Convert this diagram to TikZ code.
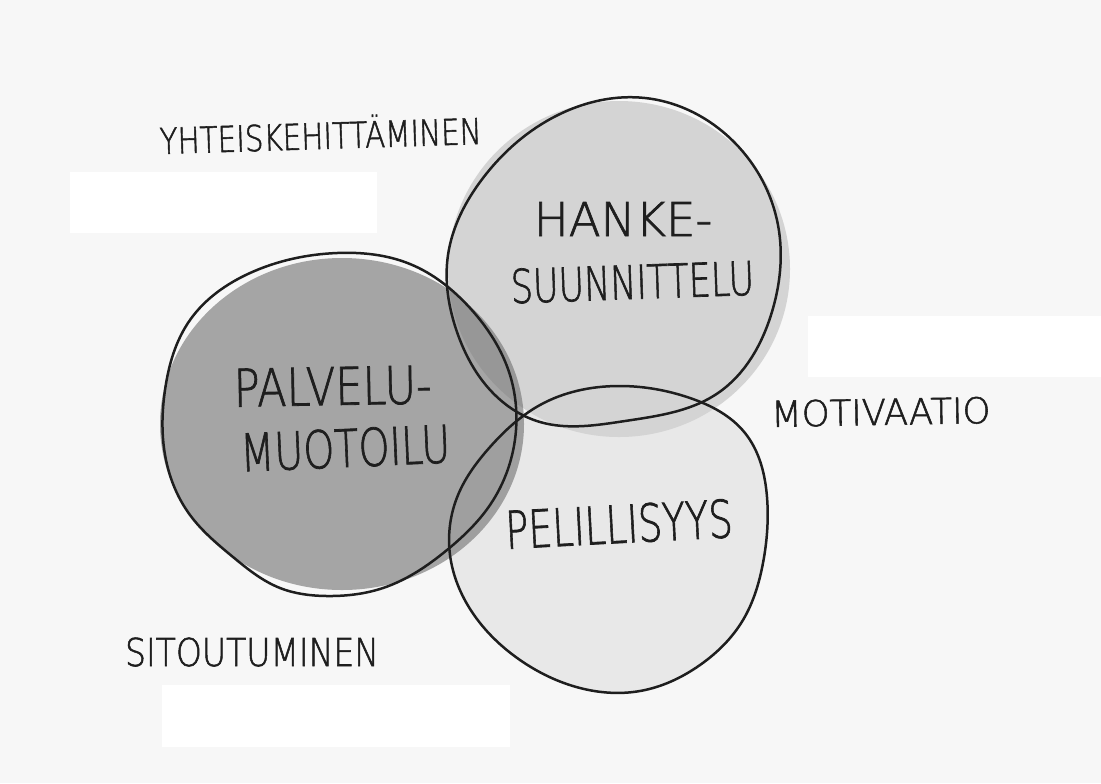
\documentclass[tikz,border=0pt]{standalone}
\usepackage{fontspec}
\usetikzlibrary{hobby}
\newfontfamily\handfont[FakeBold=1.5]{DejaVu Sans ExtraLight}

\definecolor{paper}{HTML}{F7F7F7}
\definecolor{inkline}{HTML}{1E1E1E}
\definecolor{topfill}{HTML}{D4D4D4}
\definecolor{botfill}{HTML}{E8E8E8}
\definecolor{leftfill}{HTML}{737373}

% horizontally condensed lettering
\newcommand\narrowtext[2]{\scalebox{#1}[1]{#2}}

\tikzset{
  outline/.style={draw=inkline, line width=1.25pt, line join=round},
  hand/.style={inner sep=0pt, anchor=base, text=inkline},
  blank/.style={fill=white, draw=none},
}

% freehand circle contours
\newcommand\topring{(645,98) (735,143) (778,225) (771,315) (718,393) (625,421)
  (540,422) (492,392) (457,332) (448,255) (483,178) (560,114)}
\newcommand\leftring{(337,253) (410,264) (470,308) (510,375) (516,430)
  (490,505) (447,550) (383,588) (327,596) (280,588) (233,557) (190,515)
  (166,460) (165,390) (190,320) (250,273)}
\newcommand\lowring{(617,386) (690,398) (745,433) (767,497) (763,563)
  (743,620) (700,665) (640,691) (580,688) (520,660) (472,612) (450,555)
  (458,495) (490,447) (540,405)}

\begin{document}
\begin{tikzpicture}[x=0.5pt, y=-0.5pt]
  \useasboundingbox (0,0) rectangle (1101,783);
  \fill[paper] (0,0) rectangle (1101,783);

  % empty white label boxes
  \fill[blank] (70,172) rectangle (377,233);
  \fill[blank] (808,316) rectangle (1101,377);
  \fill[blank] (162,685) rectangle (510,747);

  % circle fills
  \fill[botfill] plot[closed hobby] coordinates {\lowring};
  \fill[topfill] (619,269) ellipse [x radius=171, y radius=168];
  \fill[leftfill, fill opacity=0.62] (342,424) ellipse [x radius=182, y radius=166];

  % hand-drawn outlines
  \draw[outline] plot[closed hobby] coordinates {\topring};
  \draw[outline] plot[closed hobby] coordinates {\leftring};
  \draw[outline] plot[closed hobby] coordinates {\lowring};

  % circle labels
  \node[hand, font=\handfont\fontsize{23.3}{26}\selectfont] (hanke) at (623,236)
    {\narrowtext{1.0}{HANKE-}};
  \node[hand, font=\handfont\fontsize{23.3}{26}\selectfont, rotate=2] (suunn) at (633,299)
    {\narrowtext{0.75}{SUUNNITTELU}};
  \node[hand, font=\handfont\fontsize{26}{29}\selectfont, rotate=1] (palvelu) at (333,405)
    {\narrowtext{0.83}{PALVELU-}};
  \node[hand, font=\handfont\fontsize{26}{29}\selectfont, rotate=2.5] (muotoilu) at (346,467)
    {\narrowtext{0.76}{MUOTOILU}};
  \node[hand, font=\handfont\fontsize{26}{29}\selectfont, rotate=3] (peli) at (620,543)
    {\narrowtext{0.73}{PELILLISYYS}};

  % outer labels
  \node[hand, font=\handfont\fontsize{17.9}{20}\selectfont, rotate=1.8] (yht) at (321,149)
    {\narrowtext{0.82}{YHTEISKEHITTÄMINEN}};
  \node[hand, font=\handfont\fontsize{17.9}{20}\selectfont, rotate=1] (moti) at (881,425)
    {\narrowtext{0.99}{MOTIVAATIO}};
  \node[hand, font=\handfont\fontsize{19.2}{22}\selectfont] (sito) at (252,666)
    {\narrowtext{0.86}{SITOUTUMINEN}};
\end{tikzpicture}
\end{document}
